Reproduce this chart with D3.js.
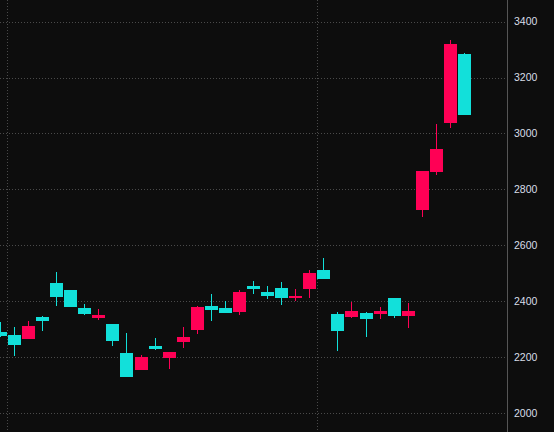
<!DOCTYPE html>
<html>
<head>
<meta charset="utf-8">
<script src="https://cdn.jsdelivr.net/npm/d3@7"></script>
<style>
html,body{margin:0;padding:0;background:#0d0d0d;overflow:hidden;}
svg{display:block;}
</style>
</head>
<body>
<svg id="chart" width="554" height="432"></svg>
<script>
// candle index 0..33
const opens  = [2290,2279,2265,2343,2465,2440,2376,2340,2318,2215,2154,2240,2197,2254,2297,2383,2376,2361,2454,2433,2447,2411,2443,2511,2354,2343,2358,2354,2411,2347,2726,2862,3038,3284];
const highs  = [2326,2308,2329,2347,2504,2441,2390,2372,2318,2286,2208,2268,2218,2308,2383,2426,2401,2440,2472,2454,2469,2443,2511,2554,2361,2397,2361,2379,2411,2394,2865,3034,3334,3288];
const lows   = [2272,2204,2265,2293,2383,2379,2350,2333,2240,2129,2154,2225,2157,2233,2283,2329,2358,2351,2426,2408,2386,2401,2411,2479,2222,2340,2272,2336,2340,2304,2701,2852,3020,3066];
const closes = [2275,2244,2311,2329,2415,2379,2354,2351,2257,2129,2200,2229,2218,2272,2379,2369,2358,2433,2443,2419,2411,2419,2501,2479,2293,2365,2336,2365,2347,2365,2865,2945,3320,3066];
const yTicks = [2000,2200,2400,2600,2800,3000,3200,3400];
const vGridAt = [0.5, 22.5]; // between candles

const W = 554, H = 432, axisX = 507;
const svg = d3.select("#chart");
svg.append("rect").attr("width", W).attr("height", H).attr("fill", "#0d0d0d");

const y = d3.scaleLinear().domain([2000, 3400]).range([413, 21.67]);
const x = d3.scaleLinear().domain([0, 1]).range([0.44, 14.5]);
const bodyW = 13;
const up = "#ff0055", down = "#12e0da";

const g = svg.append("g").attr("shape-rendering", "crispEdges");

// horizontal grid
g.selectAll("line.hg").data(yTicks).join("line")
  .attr("x1", 0).attr("x2", axisX)
  .attr("y1", d => Math.round(y(d)) + 0.5).attr("y2", d => Math.round(y(d)) + 0.5)
  .attr("stroke", "#4a4a4a").attr("stroke-dasharray", "1,2");

// vertical grid
g.selectAll("line.vg").data(vGridAt).join("line")
  .attr("x1", d => Math.round(x(d)) + 0.5).attr("x2", d => Math.round(x(d)) + 0.5)
  .attr("y1", 0).attr("y2", H)
  .attr("stroke", "#4a4a4a").attr("stroke-dasharray", "1,2");

const data = opens.map((o, i) => ({i, o, h: highs[i], l: lows[i], c: closes[i]}));

// wicks
g.selectAll("line.wick").data(data).join("line")
  .attr("x1", d => Math.floor(x(d.i)) + 0.5).attr("x2", d => Math.floor(x(d.i)) + 0.5)
  .attr("y1", d => Math.round(y(d.h))).attr("y2", d => Math.round(y(d.l)))
  .attr("stroke", d => d.c >= d.o ? up : down).attr("stroke-width", 1);

// bodies
g.selectAll("rect.body").data(data).join("rect")
  .attr("x", d => Math.round(x(d.i) - bodyW / 2))
  .attr("width", bodyW)
  .attr("y", d => Math.round(y(Math.max(d.o, d.c))))
  .attr("height", d => Math.max(1, Math.round(y(Math.min(d.o, d.c))) - Math.round(y(Math.max(d.o, d.c)))))
  .attr("fill", d => d.c >= d.o ? up : down);

// right axis line
svg.append("line").attr("x1", axisX + 0.5).attr("x2", axisX + 0.5)
  .attr("y1", 0).attr("y2", H).attr("stroke", "#555").attr("shape-rendering", "crispEdges");

// tick labels
svg.selectAll("text.tick").data(yTicks).join("text")
  .attr("x", 514).attr("y", d => y(d))
  .attr("dy", "0.36em")
  .attr("fill", "#d8dde8")
  .attr("font-family", "'Liberation Sans', Arial, sans-serif")
  .attr("font-size", "10.5px")
  .text(d => d);
</script>
</body>
</html>
